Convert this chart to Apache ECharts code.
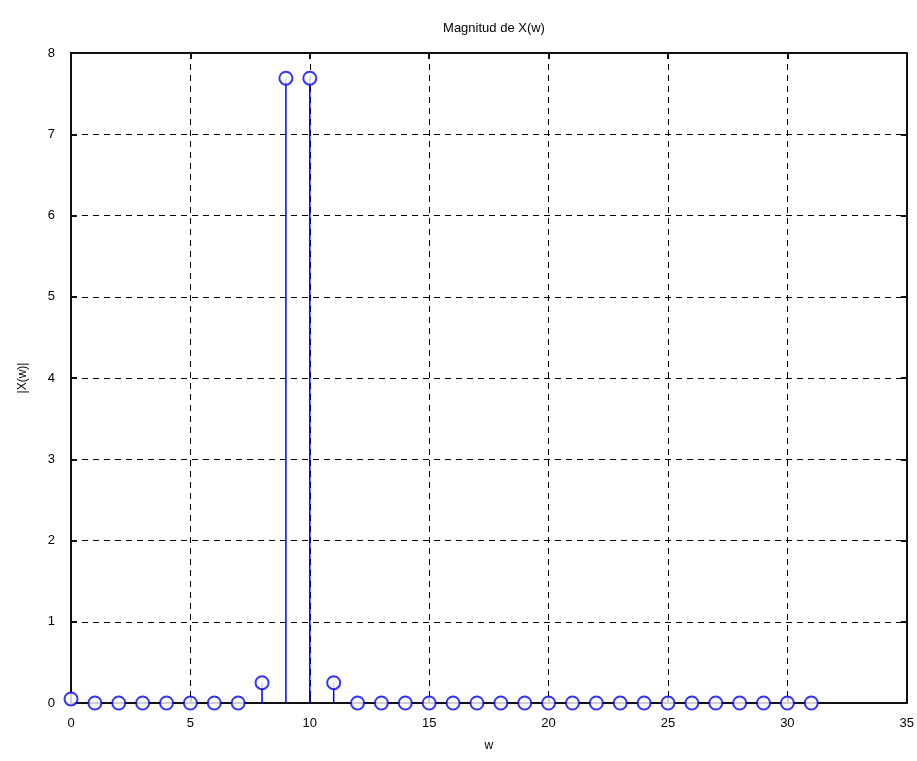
<!DOCTYPE html>
<html>
<head>
<meta charset="utf-8">
<script src="https://cdn.jsdelivr.net/npm/echarts@6/dist/echarts.min.js"></script>
<style>
  html, body { margin: 0; padding: 0; background: #fff; }
  #chart { width: 917px; height: 761px; }
</style>
</head>
<body>
<div id="chart"></div>
<script>
// muestras k = 0..31 y magnitud |X(w)|
const wValues = [0, 1, 2, 3, 4, 5, 6, 7, 8, 9, 10, 11, 12, 13, 14, 15,
  16, 17, 18, 19, 20, 21, 22, 23, 24, 25, 26, 27, 28, 29, 30, 31]
const magValues = [0.05, 0, 0, 0, 0, 0, 0, 0, 0.25, 7.69, 7.69, 0.25, 0, 0, 0, 0,
  0, 0, 0, 0, 0, 0, 0, 0, 0, 0, 0, 0, 0, 0, 0, 0]
const xTicks = [0, 5, 10, 15, 20, 25, 30, 35]
const yTicks = [0, 1, 2, 3, 4, 5, 6, 7, 8]

const stemData = wValues.map((w, i) => [w, magValues[i]])
const blue = '#0000ff'
const fontFamily = 'Liberation Sans, Arial, sans-serif'

const chart = echarts.init(document.getElementById('chart'))

const axisLine = { show: true, onZero: false, lineStyle: { color: '#111', width: 2 } }
const tickStyle = { show: true, inside: true, length: 6, lineStyle: { color: '#111', width: 2 } }
const dashed = { show: true, lineStyle: { color: '#000', type: [6, 5], width: 1 } }

const option = {
  animation: false,
  backgroundColor: '#fff',
  title: {
    text: 'Magnitud de X(w)',
    left: 489,
    textAlign: 'center',
    top: 17,
    textStyle: { fontFamily, fontSize: 13, fontWeight: 'normal', color: '#000' }
  },
  grid: { left: 71, right: 10, top: 53, bottom: 58 },
  xAxis: [
    {
      type: 'value',
      min: 0,
      max: 35,
      interval: 5,
      name: 'w',
      nameLocation: 'middle',
      nameGap: 37,
      nameTextStyle: { fontFamily, fontSize: 12, color: '#000' },
      axisLine,
      axisTick: tickStyle,
      splitLine: dashed,
      axisLabel: {
        margin: 14,
        fontFamily,
        fontSize: 13,
        color: '#000',
        formatter: v => (xTicks.includes(v) ? String(v) : '')
      }
    },
    {
      type: 'value',
      position: 'top',
      min: 0,
      max: 35,
      interval: 5,
      axisLine,
      axisTick: tickStyle,
      axisLabel: { show: false },
      splitLine: { show: false }
    }
  ],
  yAxis: [
    {
      type: 'value',
      min: 0,
      max: 8,
      interval: 1,
      name: '|X(w)|',
      nameLocation: 'middle',
      nameGap: 42,
      nameTextStyle: { fontFamily, fontSize: 12, color: '#000' },
      axisLine,
      axisTick: tickStyle,
      splitLine: dashed,
      axisLabel: {
        margin: 16,
        fontFamily,
        fontSize: 13,
        color: '#000',
        formatter: v => (yTicks.includes(v) ? String(v) : '')
      }
    },
    {
      type: 'value',
      position: 'right',
      min: 0,
      max: 8,
      interval: 1,
      axisLine,
      axisTick: tickStyle,
      axisLabel: { show: false },
      splitLine: { show: false }
    }
  ],
  series: [
    {
      // tallos
      type: 'custom',
      data: stemData,
      z: 3,
      renderItem: function(params, api) {
        const base = api.coord([api.value(0), 0])
        const top = api.coord([api.value(0), api.value(1)])
        return {
          type: 'line',
          shape: { x1: base[0], y1: base[1], x2: top[0], y2: top[1] },
          style: { stroke: blue, lineWidth: 1.5 }
        }
      }
    },
    {
      // marcadores
      type: 'scatter',
      data: stemData,
      z: 4,
      symbol: 'emptyCircle',
      symbolSize: 13,
      itemStyle: { color: blue, borderColor: blue, borderWidth: 1.5 }
    }
  ]
}

chart.setOption(option)
</script>
</body>
</html>
